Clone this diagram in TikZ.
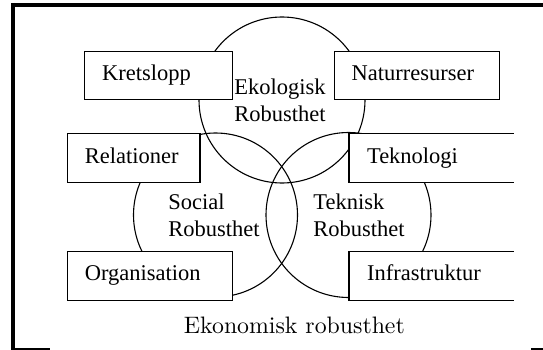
\documentclass[tikz,border=0pt]{standalone}
\usepackage{fontspec}
\setmainfont{Liberation Serif}
\newfontfamily\ekofont{lmroman10-regular}[Extension=.otf]
\usetikzlibrary{positioning}

\begin{document}
\begin{tikzpicture}[x=1pt, y=-1pt, line width=1.1pt, every node/.style={font=\fontsize{22.5}{27}\selectfont}, cirkel/.style={circle, draw, inner sep=0pt}, ruta/.style={draw, fill=white, anchor=north west, minimum height=48.5pt, inner xsep=17.5pt, text width=#1, text height=15.5pt, text depth=5.5pt, align=left}, oppen/.style={ruta=#1, draw=none}, etikett/.style={align=left, inner sep=0pt}]
	\useasboundingbox (0,0) rectangle (543,350);
	% ram
	\draw[line width=3.5pt] (11,5) -- (543,5);
	\draw[line width=4pt] (13,3) -- (13,349);
	\draw[line width=2pt] (11,349) -- (50,349);
	\draw[line width=2pt] (531,349) -- (543,349);

	\node[cirkel, minimum size=166pt] (ekol) at (282,100) {};
	\node[cirkel, minimum size=164pt] (soc) at (215.5,215) {};
	\node[cirkel, minimum size=165pt] (tek) at (348.5,215) {};

	\node[ruta=113pt] (kret) at (84,50.7) {Kretslopp};
	\node[ruta=130pt, right=100.4pt of kret.north east, anchor=north west] (natur) {Naturresurser};
	\node[ruta=97.6pt] (rel) at (66.8,133.3) {Relationer};
	\node[ruta=130pt, below=68.2pt of rel.south west, anchor=north west] (org) {Organisation};
	\node[oppen=128.5pt] (tekn) at (349,133.3) {Teknologi};
	\node[oppen=128.5pt, below=68.2pt of tekn.south west, anchor=north west] (infra) {Infrastruktur};
	\draw (tekn.north east) -- (tekn.north west) -- (tekn.south west) -- (tekn.south east);
	\draw (infra.north east) -- (infra.north west) -- (infra.south west) -- (infra.south east);

	\node[etikett, xshift=-2pt] (ekol-t) at (ekol) {Ekologisk\\Robusthet};
	\node[etikett, xshift=-1.5pt] (soc-t) at (soc) {Social\\Robusthet};
	\node[etikett, xshift=10.5pt] (tek-t) at (tek) {Teknisk\\Robusthet};
	\node[font={\ekofont\fontsize{23.8}{27}\selectfont}, anchor=base] (eko) at (294.4,333.3) {Ekonomisk robusthet};
\end{tikzpicture}
\end{document}
